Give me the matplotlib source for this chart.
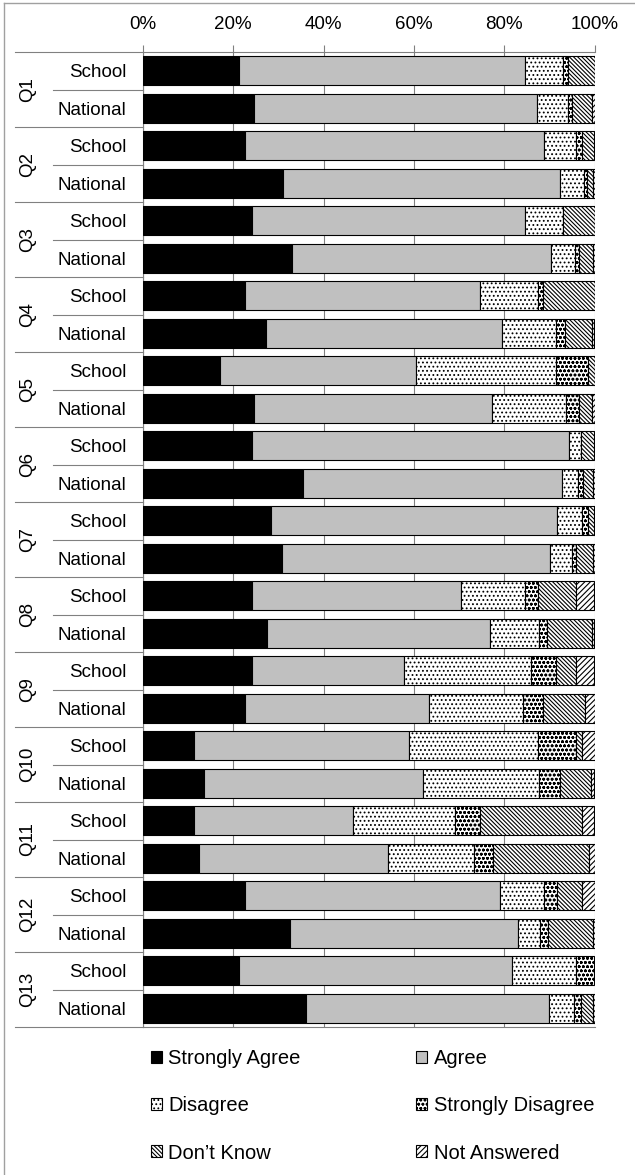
import matplotlib.pyplot as plt
from matplotlib.lines import Line2D
from matplotlib.patches import Patch
import numpy as np

plt.rcParams['font.family'] = ['Liberation Sans', 'DejaVu Sans']
plt.rcParams['hatch.linewidth'] = 0.8

questions = ['Q%d' % i for i in range(1, 14)]
groups = ['School', 'National']

# percentages, order: Q1 School, Q1 National, Q2 School, ...
strongly_agree = [21.3, 24.6, 22.7, 31.1, 24.1, 33.1, 22.7, 27.2, 17.1, 24.6, 24.1, 35.5, 28.4,
                  30.8, 24.1, 27.5, 24.1, 22.6, 11.4, 13.4, 11.4, 12.5, 22.7, 32.6, 21.3, 36.0]
agree = [63.2, 62.6, 66.1, 61.2, 60.4, 57.3, 52.0, 52.4, 43.4, 52.7, 70.3, 57.3, 63.3,
         59.3, 46.3, 49.3, 33.6, 40.8, 47.6, 48.6, 35.1, 41.7, 56.3, 50.4, 60.4, 54.0]
disagree = [8.5, 6.9, 7.0, 5.3, 8.5, 5.3, 12.7, 11.9, 31.0, 16.3, 2.6, 3.5, 5.5,
            4.9, 14.1, 10.8, 28.2, 20.7, 28.4, 25.6, 22.6, 19.2, 9.9, 5.0, 14.2, 5.5]
strongly_disagree = [1.2, 0.9, 1.4, 0.7, 0.0, 0.8, 1.3, 2.0, 7.0, 2.9, 0.0, 1.1, 1.3,
                     0.9, 3.0, 1.8, 5.6, 4.4, 8.5, 4.8, 5.6, 4.2, 2.8, 1.8, 4.1, 1.5]
dont_know = [5.8, 4.5, 2.8, 1.3, 7.0, 3.1, 11.3, 5.9, 1.5, 2.9, 3.0, 2.2, 1.5,
             3.7, 8.4, 10.0, 4.4, 9.5, 1.4, 6.8, 22.6, 21.1, 5.6, 9.8, 0.0, 2.6]
not_answered = [0.0, 0.5, 0.0, 0.4, 0.0, 0.4, 0.0, 0.6, 0.0, 0.6, 0.0, 0.4, 0.0,
                0.4, 4.1, 0.6, 4.1, 2.0, 2.7, 0.8, 2.7, 1.3, 2.7, 0.4, 0.0, 0.4]

series = ['Strongly Agree', 'Agree', 'Disagree', 'Strongly Disagree', "Don\u2019t Know", 'Not Answered']
values = [strongly_agree, agree, disagree, strongly_disagree, dont_know, not_answered]
colors = ['black', '#c0c0c0', 'white', 'white', 'white', 'white']
hatches = [None, None, '....', 'oooo', '\\' * 8, '/' * 6]

FS = 13.5
W, H = 635, 1175
fig = plt.figure(figsize=(W / 100, H / 100), dpi=100)
ax = fig.add_axes([143 / W, 1 - 1027 / H, 451.5 / W, 975 / H])

n = len(strongly_agree)
y = np.arange(n)
left = np.zeros(n)
handles = []
for name, vals, c, h in zip(series, values, colors, hatches):
    vals = np.array(vals)
    ax.barh(y, vals, left=left, height=0.78, color=c, edgecolor='black',
            hatch=h, linewidth=0.8, zorder=3)
    left += vals
    handles.append(Patch(facecolor=c, edgecolor='black', hatch=h, linewidth=0.8, label=name))

ax.set_xlim(0, 100)
ax.set_ylim(n - 0.5, -0.5)
ax.xaxis.tick_top()
ax.set_xticks(range(0, 101, 20))
ax.set_xticklabels(['%d%%' % v for v in range(0, 101, 20)])
ax.tick_params(axis='x', length=5, color='#808080', labelsize=FS, pad=9)
ax.grid(axis='x', color='#808080', linewidth=0.8, zorder=0)

ax.set_yticks(y)
ax.set_yticklabels(groups * len(questions))
ax.set_yticks(np.arange(-0.5, n, 1), minor=True)
ax.tick_params(axis='y', which='major', length=0, labelsize=FS, pad=12)
ax.tick_params(axis='y', which='minor', length=4, color='#808080')

ax.spines['right'].set_visible(False)
for s in ['top', 'bottom', 'left']:
    ax.spines[s].set_color('#808080')

# group labels and separators on the category axis
tr = ax.get_yaxis_transform()
for i, q in enumerate(questions):
    ax.text(-0.255, 2 * i + 0.5, q, rotation=90, ha='center', va='center',
            fontsize=FS, transform=tr)
    ax.plot([-0.2, 0], [2 * i + 0.5, 2 * i + 0.5], color='#808080', lw=0.8,
            transform=tr, clip_on=False)
for b in range(0, n + 1, 2):
    ax.plot([-0.284, 0], [b - 0.5, b - 0.5], color='#808080', lw=0.8,
            transform=tr, clip_on=False)

# legend, laid out row by row
order = [0, 2, 4, 1, 3, 5]
fig.legend([handles[i] for i in order], [series[i] for i in order], ncol=2,
           loc='upper left', bbox_to_anchor=(133 / W, 1 - 1031 / H), frameon=False,
           fontsize=14.5, handlelength=0.55, handleheight=0.55, handletextpad=0.3,
           columnspacing=5.75, labelspacing=1.4)

# frame of the surrounding chart area
fig.add_artist(Line2D([4 / W, 4 / W], [0, 1 - 3 / H], color='#a0a0a0', lw=1))
fig.add_artist(Line2D([4 / W, 1], [1 - 3 / H, 1 - 3 / H], color='#a0a0a0', lw=1))

fig.savefig('out.png', dpi=100)
